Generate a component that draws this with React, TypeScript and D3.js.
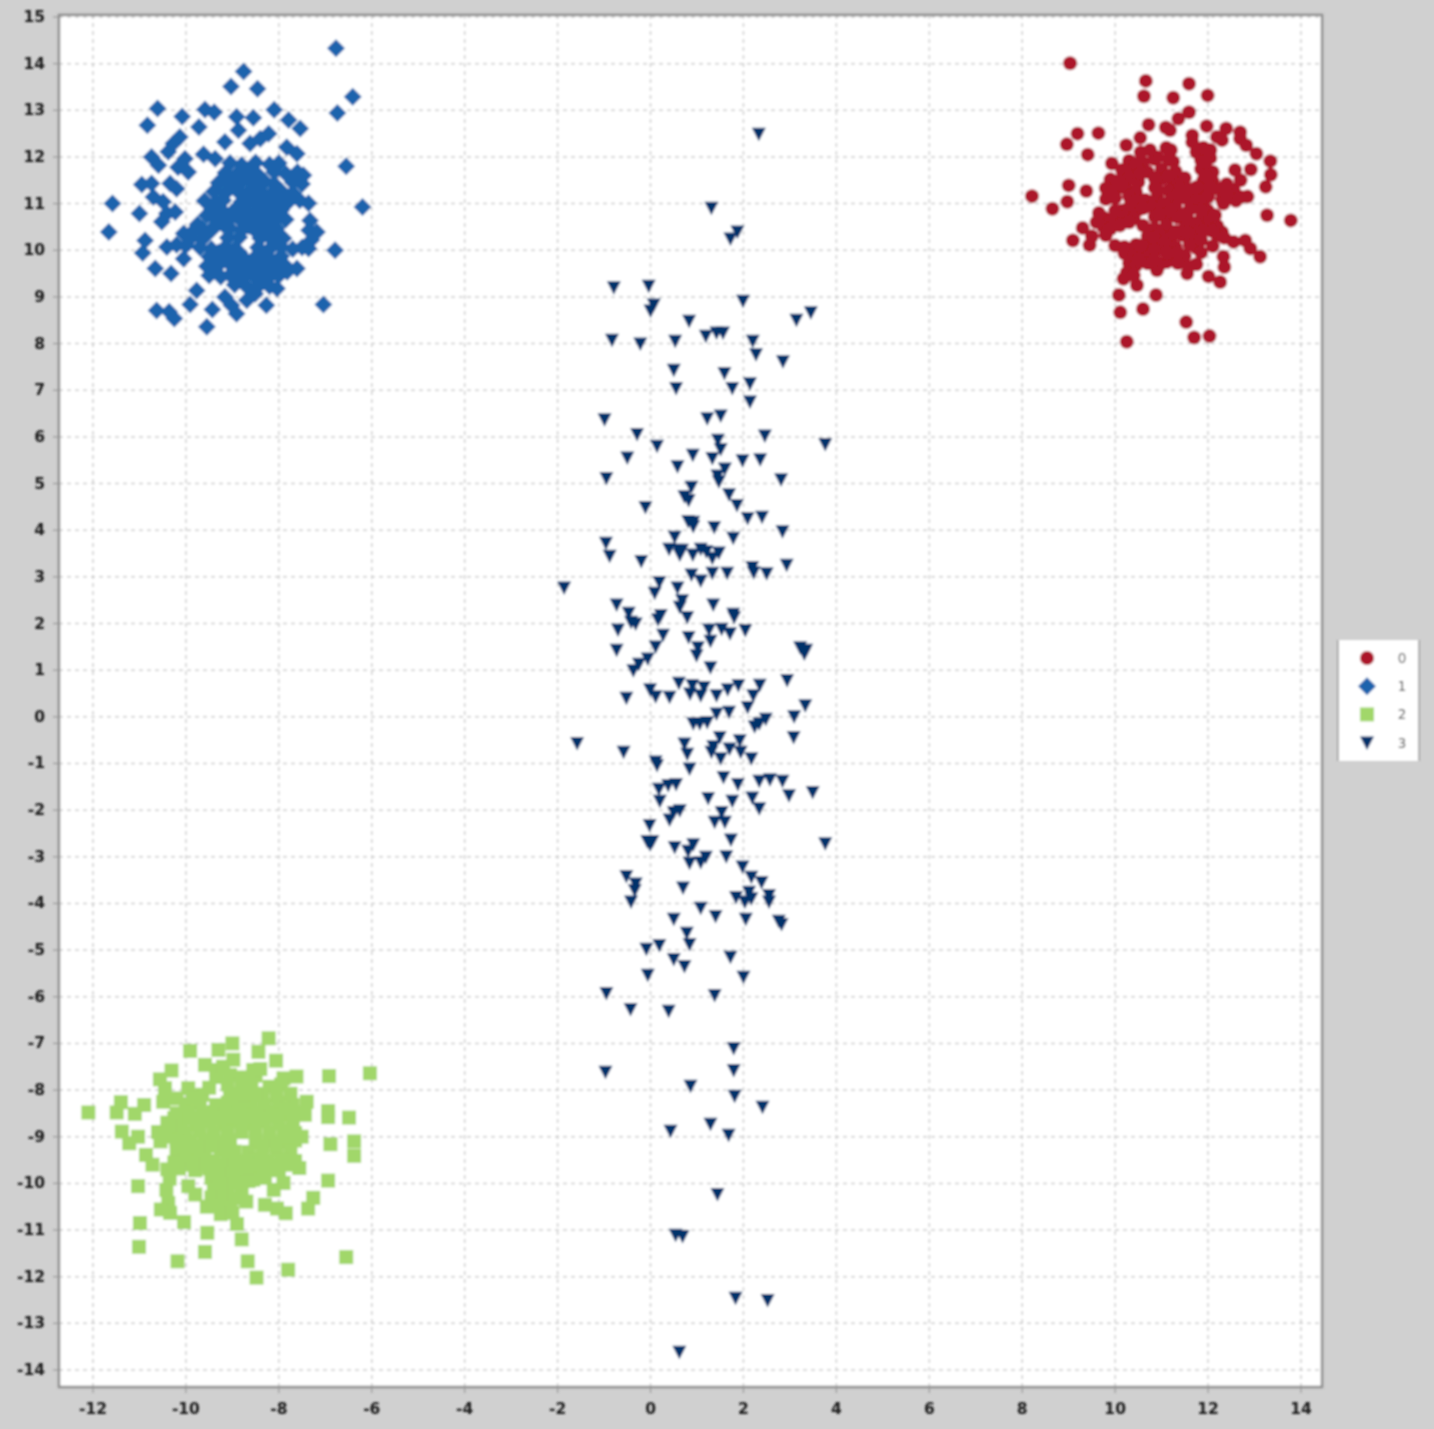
import React from "react";
import * as d3 from "d3";

type P = [number, number];

const xTicks = [-12,-10,-8,-6,-4,-2,0,2,4,6,8,10,12,14];
const yTicks = d3.range(-14, 16);
const legendLabels = ["0","1","2","3"];
const colors = ["#AC1429","#1F64AD","#A1D76A","#05326A"];

const series0: P[] = [
[9.03,14.01],[10.66,13.63],[10.62,13.3],[11.59,13.57],[11.25,13.27],[11.99,13.32],[11.59,12.96],[11.36,12.82],[10.72,12.69],[11.09,12.63],[11.18,12.57],[11.97,12.66],[12.39,12.61],[12.69,12.53],[9.19,12.5],[9.64,12.51],[8.96,12.27],[9.41,12.05],[10.24,12.25],[10.54,12.41],[11.66,12.46],[11.66,12.32],[12.19,12.43],[12.3,12.36],[12.69,12.39],[12.82,12.25],[13.04,12.07],[13.34,11.91],[13.35,11.62],[12.92,11.73],[13.24,11.36],[13.27,10.75],[13.78,10.64],[9.0,11.39],[9.38,11.27],[8.21,11.16],[8.97,11.04],[8.65,10.89],[9.3,10.48],[9.09,10.21],[9.45,10.11],[9.5,10.3],
[10.88,9.04],[10.6,8.74],[10.11,8.67],[10.08,9.04],[11.53,8.46],[11.7,8.13],[12.03,8.16],[10.25,8.04],[12.26,9.32],[12.01,9.44],[12.35,9.64],[12.33,9.86],[13.12,9.86],[12.91,10.04],[12.8,10.21],[12.55,10.18],[12.3,10.39],[10.47,9.25],[10.18,9.39],[10.32,9.57],[10.9,9.57],[11.11,9.75],[11.58,9.64],[11.44,9.86],[11.76,10.04],
[10.3,11.92],[10.6,11.88],[10.85,11.95],[11.25,11.9],[11.85,11.93],[12.05,11.98],[9.93,11.86],[10.15,11.72],[10.4,11.75],[10.7,11.68],[11.0,11.73],[11.3,11.69],[11.85,11.74],[12.1,11.68],
[9.9,11.52],[10.05,11.48],[10.3,11.55],[10.5,11.46],[11.0,11.53],[11.25,11.47],[11.5,11.55],[11.9,11.5],[12.1,11.48],[9.8,11.33],[10.0,11.27],[10.25,11.31],[10.45,11.25],[10.85,11.34],[11.15,11.28],[11.4,11.33],[11.9,11.27],[12.2,11.32],[12.55,11.3],[12.7,11.5],[12.4,11.42],
[9.8,11.1],[10.0,11.12],[10.65,11.08],[10.9,11.13],[11.2,11.07],[11.5,11.12],[11.75,11.08],[12.0,11.14],[12.3,11.1],[12.6,11.06],[12.85,11.15],[10.3,10.92],[10.5,10.87],[10.8,10.93],[11.05,10.88],[11.3,10.92],[11.6,10.87],[11.9,10.93],[12.0,10.85],
[9.75,10.7],[9.95,10.66],[10.2,10.72],[10.4,10.68],[10.85,10.72],[11.1,10.66],[11.35,10.7],[11.85,10.67],[12.05,10.72],[9.75,10.5],[9.9,10.46],[10.1,10.53],[10.3,10.6],[10.6,10.53],[10.85,10.47],[11.1,10.52],[11.5,10.48],[11.75,10.53],[12.0,10.47],[12.2,10.52],
[9.8,10.32],[10.7,10.3],[10.95,10.34],[11.2,10.28],[11.45,10.32],[11.75,10.27],[12.2,10.33],[12.35,10.27],[10.0,10.1],[10.2,10.07],[10.45,10.12],[10.7,10.08],[11.0,10.13],[11.3,10.07],[11.6,10.12],[11.85,10.22],[12.1,10.09],
[10.2,9.93],[10.4,9.88],[10.6,9.92],[10.75,9.87],[11.2,9.93],[11.5,9.88],[11.75,9.7],[10.3,9.72],[10.45,9.68],[10.7,9.72],[10.95,9.68],[11.35,9.72],[11.55,9.5],[10.25,9.52],[10.4,9.46],
[10.9,12.0],[11.1,12.2],[11.15,11.95],[11.2,12.15],[10.55,12.1],[10.75,12.15],[11.75,12.1],[11.9,12.2],[12.05,12.15],[11.95,11.9],[10.45,11.85],[10.55,11.65],[10.85,11.55],[11.15,11.6],[11.95,11.6],[10.15,11.4],[10.3,11.15],[10.45,11.05],[10.9,11.3],[11.05,11.0],[11.35,11.2],[11.6,11.3],[11.75,11.35],[12.05,11.35],[12.58,11.72],[12.4,11.2],[12.7,11.14],[12.33,11.0],[10.15,10.85],[10.6,10.9],[10.95,10.78],[11.2,10.85],[11.45,10.75],[11.6,10.62],[11.85,10.85],[12.15,10.75],[10.0,10.85],[9.6,10.6],[9.65,10.8],[10.55,10.1],[10.85,10.25],[11.05,10.15],[11.3,10.4],[11.55,10.38],[11.9,10.42],[12.1,10.4],[10.85,10.0],[11.1,9.95],[11.35,9.95],[11.85,9.95],[10.5,9.8],[10.85,9.8],
];

const series1: P[] = [
[-6.77,14.33],[-8.76,13.83],[-9.03,13.51],[-8.46,13.46],[-6.41,13.29],[-6.74,12.94],[-10.61,13.04],[-9.59,13.02],[-9.39,12.96],[-10.08,12.87],[-10.83,12.68],[-9.72,12.64],[-8.91,12.86],[-8.55,12.84],[-8.1,13.01],[-7.79,12.79],[-7.54,12.61],[-8.87,12.57],[-10.13,12.43],[-10.27,12.29],[-10.38,12.11],[-9.16,12.32],[-8.22,12.5],[-8.4,12.39],[-8.62,12.29],[-7.83,12.21],[-7.61,12.07],[-10.74,12.0],[-10.59,11.82],[-9.62,12.06],[-9.37,11.96],[-10.02,11.96],[-10.17,11.78],[-9.95,11.68],[-6.55,11.8],[-7.47,11.61],[-10.95,11.41],[-10.74,11.43],[-10.34,11.43],[-10.2,11.32],[-10.7,11.14],[-10.49,11.04],[-10.23,10.82],[-10.41,10.79],[-10.52,10.61],[-11.58,11.0],[-11,10.79],[-11.66,10.39],[-6.2,10.93],[-7.36,11.01],[-6.79,10],[-10.88,10.21],[-10.93,9.94],[-10.05,10.36],[-10.41,10.07],[-10.05,9.82],[-10.66,9.61],[-10.32,9.5],[-9.77,9.14],[-9.91,8.84],[-10.63,8.71],[-10.36,8.68],[-10.25,8.54],[-9.55,8.36],[-9.43,8.73],[-9.16,9.0],[-8.91,8.64],[-9.02,8.82],[-8.69,8.93],[-8.51,9.07],[-8.27,8.82],[-7.04,8.84],[-8.04,9.18],[-7.61,9.61],[-7.82,9.54],[-7.36,10.04],[-7.18,10.39],[-7.33,10.64],[-10.2,10.12],[-10.0,10.1],
[-9.05,11.87],[-8.8,11.83],[-8.5,11.88],[-8.2,11.84],[-8.0,11.87],[-9.15,11.66],[-8.9,11.63],[-8.65,11.68],[-8.45,11.62],[-8.1,11.68],[-7.85,11.64],[-7.6,11.68],[-9.3,11.45],[-9.05,11.42],[-8.8,11.47],[-8.55,11.43],[-8.3,11.47],[-8.1,11.42],[-7.7,11.46],[-7.5,11.42],
[-9.4,11.26],[-9.15,11.23],[-8.9,11.28],[-8.65,11.24],[-8.4,11.26],[-8.15,11.23],[-7.95,11.27],[-7.7,11.23],[-9.6,11.06],[-9.35,11.03],[-9.2,11.07],[-8.8,11.04],[-8.55,11.07],[-8.3,11.03],[-8.05,11.06],[-7.8,11.03],[-7.55,11.07],[-9.45,10.86],[-9.2,10.83],[-8.95,10.87],[-8.7,10.84],[-8.45,10.86],[-8.2,10.83],[-7.95,10.86],
[-9.35,10.66],[-9.1,10.63],[-8.85,10.67],[-8.6,10.63],[-8.35,10.66],[-8.1,10.63],[-7.85,10.66],[-9.65,10.46],[-9.45,10.43],[-9.05,10.47],[-8.8,10.43],[-8.55,10.46],[-8.3,10.43],[-8.05,10.47],[-7.35,10.43],[-9.9,10.26],[-9.65,10.23],[-9.1,10.27],[-8.85,10.28],[-8.4,10.26],[-8.15,10.23],[-7.9,10.26],[-7.3,10.22],
[-9.7,10.06],[-9.45,10.03],[-9.15,10.07],[-8.95,10.03],[-8.45,10.06],[-8.2,10.03],[-7.95,10.07],[-7.7,10.03],[-7.5,10.06],[-9.5,9.86],[-9.25,9.83],[-9.0,9.87],[-8.75,9.83],[-8.5,9.86],[-8.2,9.83],[-7.95,9.87],[-9.55,9.66],[-9.35,9.63],[-8.9,9.67],[-8.65,9.63],[-8.4,9.66],[-8.15,9.63],[-7.85,9.66],
[-9.5,9.46],[-9.25,9.43],[-9.05,9.47],[-8.8,9.43],[-8.55,9.46],[-8.2,9.43],[-8.0,9.46],[-8.95,9.26],[-8.7,9.23],[-8.4,9.27],[-8.2,9.23],
[-9.3,10.95],[-9.0,10.75],[-8.75,10.95],[-8.5,10.75],[-8.25,10.95],[-8.0,10.75],[-9.2,10.55],[-8.65,10.52],[-8.4,10.55],[-8.15,10.55],[-9.3,9.95],[-9.1,9.75],[-8.85,9.95],[-8.6,9.75],[-8.35,9.95],[-8.05,9.75],[-9.4,9.75],[-8.95,9.55],[-8.65,9.53],[-8.35,9.5],[-9.35,10.55],[-8.6,11.15],[-8.3,11.15],[-8.95,11.55],[-8.65,11.55],[-7.95,11.1],[-9.55,10.75],[-9.75,10.55],[-9.85,10.4],[-9.55,10.35],
];

const series2: P[] = [
[-12.1,-8.48],[-6.04,-7.64],[-6.92,-7.7],[-9.91,-7.16],[-9.0,-7.0],[-8.22,-6.89],[-8.44,-7.18],[-8.06,-7.37],[-9.3,-7.14],[-8.98,-7.35],[-9.59,-7.46],[-10.31,-7.58],[-10.56,-7.77],[-7.62,-7.71],[-7.9,-7.75],[-7.4,-8.25],[-7.44,-8.53],[-6.94,-8.45],[-6.94,-8.58],[-6.49,-8.59],[-11.4,-8.26],[-10.9,-8.32],[-11.49,-8.48],[-11.1,-8.51],[-11.38,-8.89],[-11.03,-9.0],[-11.22,-9.14],[-10.86,-9.39],[-10.72,-9.6],[-7.51,-9],[-6.89,-9.16],[-6.38,-9.1],[-6.38,-9.41],[-7.56,-9.67],[-6.94,-9.94],[-11.03,-10.06],[-7.9,-9.99],[-8.11,-10.14],[-7.26,-10.31],[-7.37,-10.54],[-7.85,-10.64],[-8.04,-10.54],[-8.3,-10.46],[-8.7,-10.39],[-8.8,-10.17],[-9.95,-10.06],[-9.8,-10.24],[-10.42,-10.14],[-10.38,-10.42],[-10.54,-10.56],[-10.34,-10.63],[-10.04,-10.83],[-10.99,-10.85],[-11.01,-11.36],[-9.54,-11.06],[-8.9,-10.87],[-8.8,-11.2],[-9.59,-11.47],[-10.18,-11.67],[-8.67,-11.67],[-7.8,-11.85],[-8.48,-12.02],[-6.55,-11.58],[-9.95,-7.96],[-10.2,-8.18],[-10.49,-8.25],[-10.45,-7.96],[-8.55,-7.57],[-8.59,-7.93],[-9.34,-7.57],
[-9.35,-7.72],[-9.05,-7.68],[-8.75,-7.73],[-8.5,-7.69],[-8.8,-7.9],[-9.1,-7.88],[-8.2,-7.93],[-7.95,-7.88],[-9.65,-8.1],[-9.05,-8.08],[-8.35,-8.1],[-8.05,-8.12],[-7.75,-8.08],
[-10.0,-8.3],[-9.7,-8.28],[-9.35,-8.32],[-9.1,-8.27],[-8.9,-8.32],[-8.6,-8.28],[-8.3,-8.32],[-8.0,-8.27],[-7.7,-8.32],[-10.2,-8.5],[-9.95,-8.48],[-9.65,-8.52],[-9.4,-8.47],[-9.15,-8.52],[-8.85,-8.48],[-8.55,-8.52],[-8.25,-8.47],[-7.95,-8.52],[-7.65,-8.48],
[-10.4,-8.7],[-10.1,-8.68],[-9.8,-8.72],[-9.5,-8.67],[-9.2,-8.72],[-8.9,-8.68],[-8.6,-8.72],[-8.3,-8.67],[-8.0,-8.72],[-7.7,-8.68],[-10.6,-8.9],[-10.3,-8.88],[-10.0,-8.92],[-9.7,-8.88],[-9.4,-8.92],[-9.1,-8.88],[-8.8,-8.9],[-8.5,-8.88],[-8.2,-8.92],[-7.9,-8.88],[-7.65,-8.92],
[-10.55,-9.1],[-10.2,-9.08],[-9.9,-9.12],[-9.6,-9.08],[-9.3,-9.12],[-9.05,-9.08],[-8.5,-9.12],[-8.2,-9.08],[-7.9,-9.12],[-7.65,-9.08],[-10.2,-9.3],[-9.9,-9.28],[-9.6,-9.32],[-9.25,-9.28],[-8.95,-9.32],[-8.65,-9.33],[-8.35,-9.32],[-8.05,-9.28],[-7.75,-9.32],
[-10.0,-9.5],[-9.7,-9.48],[-9.4,-9.52],[-9.1,-9.48],[-8.85,-9.52],[-8.55,-9.48],[-8.25,-9.52],[-7.95,-9.48],[-7.65,-9.52],[-10.4,-9.7],[-10.15,-9.68],[-9.8,-9.72],[-9.5,-9.68],[-9.2,-9.72],[-8.9,-9.68],[-8.6,-9.72],[-8.3,-9.68],[-8.0,-9.72],[-10.35,-9.9],[-9.45,-9.88],[-9.15,-9.92],[-8.85,-9.88],[-8.55,-9.92],[-8.3,-9.88],
[-9.4,-10.1],[-9.1,-10.12],[-9.45,-10.3],[-9.2,-10.28],[-8.95,-10.32],[-9.55,-10.5],[-9.3,-10.47],[-9.05,-10.52],[-9.25,-10.66],[-9.0,-10.63],
[-9.85,-8.15],[-9.5,-7.95],[-9.2,-7.5],[-8.75,-8.1],[-8.5,-8.08],[-8.4,-7.55],[-7.85,-8.4],[-8.15,-8.55],[-8.45,-8.6],[-8.75,-8.55],[-9.05,-8.58],[-9.3,-8.6],[-9.6,-8.6],[-9.9,-8.6],[-10.25,-8.6],[-10.35,-8.75],[-10.45,-9.0],[-10.05,-9.2],[-9.75,-9.2],[-9.45,-9.2],[-9.15,-9.2],[-8.35,-9.2],[-8.05,-9.18],[-7.8,-9.0],[-9.85,-9.6],[-9.55,-9.6],[-9.25,-9.6],[-8.95,-9.6],[-8.65,-9.6],[-8.4,-9.6],[-8.1,-9.6],[-7.8,-9.6],[-10.25,-9.55],[-9.25,-9.8],[-9.0,-9.8],[-8.7,-9.8],[-9.25,-10.0],[-8.95,-10.0],[-8.65,-9.95],
];

const series3: P[] = [
[2.33,12.5],[1.31,10.91],[1.87,10.4],[1.72,10.25],
[-0.79,9.21],[-0.04,9.24],[1.99,8.92],[0.07,8.84],[0,8.71],[3.45,8.67],[3.14,8.51],[0.83,8.49],[1.19,8.17],[1.42,8.24],[1.56,8.24],[-0.83,8.08],[-0.22,8.0],[0.53,8.06],[2.2,8.06],[2.27,7.77],[2.85,7.62],[0.5,7.44],[1.59,7.37],[2.14,7.15],[0.55,7.05],[1.76,7.05],[2.14,6.76],[-0.99,6.38],[1.51,6.46],[1.22,6.4],[-0.29,6.06],[1.45,5.94],[2.46,6.03],[3.76,5.85],[0.14,5.81],[1.51,5.74],[-0.5,5.56],[0.91,5.62],[1.33,5.55],[1.98,5.5],[2.36,5.52],[0.58,5.37],[1.6,5.32],[-0.95,5.12],[1.44,5.17],[1.47,5.05],[2.81,5.09],[0.88,4.93],[0.73,4.73],[0.82,4.65],[1.69,4.77],[1.86,4.54],[-0.11,4.5],[2.09,4.26],[2.4,4.29],[0.81,4.2],[0.92,4.18],[0.92,4.09],[1.37,4.07],[2.84,3.98],[0.52,3.86],[1.78,3.84],[-0.96,3.73],[-0.88,3.45],[0.4,3.6],[0.61,3.58],[0.68,3.58],[0.63,3.48],[0.91,3.48],[1.08,3.6],[1.2,3.55],[1.33,3.41],[1.47,3.52],[-0.2,3.34],[2.19,3.21],[2.22,3.1],[2.93,3.26],[2.5,3.08],[0.88,3.05],[1.08,2.92],[1.33,3.09],[1.65,3.09],[-1.86,2.77],[0.19,2.89],[0.09,2.66],[0.58,2.77],[0.68,2.5],
[-0.73,2.41],[-0.47,2.23],[-0.42,2.04],[-0.32,2.0],[-0.7,1.87],[0.22,2.18],[0.16,2.09],[0.63,2.36],[0.79,2.14],[1.35,2.41],[1.78,2.21],[1.8,2.14],[1.26,1.87],[1.53,1.89],[1.71,1.79],[2.04,1.86],[1.29,1.63],[0.82,1.71],[0.27,1.76],[0.11,1.51],[1.02,1.49],[0.99,1.32],[-0.73,1.44],[-0.06,1.25],[-0.25,1.14],[-0.37,1.0],[1.29,1.06],[3.22,1.49],[3.35,1.44],[3.31,1.36],[0.61,0.73],[-0.01,0.59],[0.11,0.44],[-0.52,0.41],[0.41,0.43],[0.9,0.68],[0.85,0.5],[1.15,0.64],[1.08,0.46],[1.42,0.46],[1.66,0.59],[1.89,0.68],[2.35,0.69],[2.21,0.46],[2.94,0.79],[2.09,0.21],[3.33,0.25],[3.09,0.01],[1.69,0.11],[1.42,0.07],[1.22,-0.11],[1.06,-0.14],[0.92,-0.14],[2.48,-0.04],[2.34,-0.14],[2.24,-0.2],[3.08,-0.43],[-1.58,-0.56],[-0.58,-0.75],[0.73,-0.57],[0.79,-0.79],[0.84,-1.11],[1.49,-0.43],[1.35,-0.63],[1.31,-0.75],[1.51,-0.89],[1.7,-0.68],[1.92,-0.5],[1.94,-0.75],[2.17,-0.89],[0.11,-0.96],[0.14,-1.03],[1.57,-1.29],[1.88,-1.44],[2.34,-1.37],[2.57,-1.34],[2.84,-1.37],[2.98,-1.68],[3.49,-1.61],[0.18,-1.54],[0.38,-1.46],[0.55,-1.44],[0.2,-1.8],[1.24,-1.74],[1.76,-1.8],[2.19,-1.73],[2.34,-1.96],[0.63,-2.0],[0.5,-2.04],[0.41,-2.2],[1.53,-2.04],[1.38,-2.25],[1.6,-2.25],[-0.02,-2.32],[-0.07,-2.66],[0.04,-2.66],[-0.01,-2.73],[1.73,-2.63],[3.76,-2.71],[0.52,-2.79],[0.92,-2.73],[0.81,-2.87],[1.63,-2.99],[1.19,-3.0],[1.08,-3.11],[0.84,-3.13],[1.98,-3.21],[2.17,-3.43],[2.39,-3.54],[-0.52,-3.41],[-0.32,-3.57],[-0.34,-3.71],[-0.42,-3.96],[0.7,-3.66],[2.12,-3.75],[1.84,-3.86],[2.17,-3.89],[2.03,-3.96],[2.55,-3.82],[2.55,-3.96],
[1.08,-4.09],[0.5,-4.33],[1.4,-4.27],[2.05,-4.33],[2.76,-4.37],[2.82,-4.44],[0.78,-4.63],[0.19,-4.89],[-0.09,-4.97],[0.84,-4.87],[0.5,-5.19],[0.73,-5.34],[1.72,-5.14],[2.0,-5.57],[-0.06,-5.53],[-0.95,-5.92],[1.38,-5.96],[-0.43,-6.26],[0.39,-6.3],[1.79,-7.1],[1.79,-7.57],[-0.97,-7.61],[0.86,-7.91],[1.81,-8.12],[2.41,-8.36],[1.29,-8.72],[0.43,-8.87],[1.68,-8.96],[1.44,-10.23],[0.54,-11.1],[0.69,-11.13],[1.83,-12.45],[2.52,-12.5],[0.62,-13.61],
];

const allSeries = [series0, series1, series2, series3];

const L = 59, R = 1322, T = 15, B = 1387;
const x = d3.scaleLinear().domain([-12, 14]).range([93, 1301]);
const y = d3.scaleLinear().domain([-14, 15]).range([1370, 17]);

const circlePath = d3.symbol().type(d3.symbolCircle).size(Math.PI * 49)() as string;
const diamondPath = "M0,-9L9,0L0,9L-9,0Z";
const squarePath = "M-7,-7H7V7H-7Z";
const trianglePath = "M-7,-6H7L0,7.5Z";
const markers = [circlePath, diamondPath, squarePath, trianglePath];

export default function App() {
  const tickFont = { fontFamily: "'DejaVu Sans', sans-serif", fontWeight: 700, fontSize: 15.5, fill: "#1c1c1c" };
  return (
    <svg width={1434} height={1429} viewBox="0 0 1434 1429"
      style={{ position: "absolute", left: 0, top: 0, background: "#D0D0D0" }}>
      <defs>
        <filter id="soft" filterUnits="userSpaceOnUse" x={-20} y={-20} width={1474} height={1469}>
          <feGaussianBlur stdDeviation={0.85} />
        </filter>
      </defs>
      <rect x={0} y={0} width={1434} height={1429} fill="#D0D0D0" />
      <g filter="url(#soft)">
        <rect x={L} y={T} width={R - L} height={B - T} fill="#fff" />
        {xTicks.map(t => (
          <g key={t}>
            <line x1={x(t)} x2={x(t)} y1={T} y2={B} stroke="#CDCDCD" strokeWidth={1.5} strokeDasharray="4 4" />
            <line x1={x(t)} x2={x(t)} y1={B} y2={B + 6} stroke="#999" strokeWidth={1.2} />
            <text x={x(t)} y={1414} textAnchor="middle" {...tickFont}>{t}</text>
          </g>
        ))}
        {yTicks.map(t => (
          <g key={t}>
            <line x1={L} x2={R} y1={y(t)} y2={y(t)} stroke="#CDCDCD" strokeWidth={1.5} strokeDasharray="4 4" />
            <line x1={L - 6} x2={L} y1={y(t)} y2={y(t)} stroke="#999" strokeWidth={1.2} />
            <text x={45} y={y(t) + 5} textAnchor="end" {...tickFont}>{t}</text>
          </g>
        ))}
        <rect x={L} y={T} width={R - L} height={B - T} fill="none" stroke="#8E8E8E" strokeWidth={2.5} />
        {allSeries.map((pts, i) => (
          <g key={i} fill={colors[i]}>
            {pts.map((p, j) => (
              <path key={j} d={markers[i]} transform={`translate(${x(p[0])},${y(p[1])})`} />
            ))}
          </g>
        ))}
        <g>
          <rect x={1338} y={640} width={81} height={121} fill="#fff" />
          <line x1={1338} x2={1338} y1={640} y2={761} stroke="#999" strokeWidth={1.5} />
          <line x1={1419} x2={1419} y1={640} y2={761} stroke="#999" strokeWidth={1.5} />
          {legendLabels.map((l, i) => (
            <g key={l} transform={`translate(0,${658 + i * 28.2})`}>
              <path d={markers[i]} fill={colors[i]} transform="translate(1367,0)" />
              <text x={1402} y={5} textAnchor="middle" fontFamily="'DejaVu Sans', sans-serif" fontSize={13.5} fill="#444">{l}</text>
            </g>
          ))}
        </g>
      </g>
    </svg>
  );
}
